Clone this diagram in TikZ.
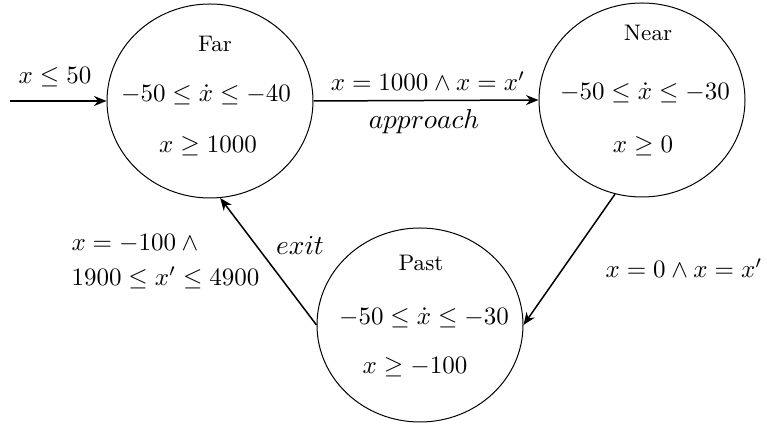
\documentclass[tikz,border=0pt]{standalone}
\usetikzlibrary{shapes.geometric,arrows.meta}
\begin{document}
\begin{tikzpicture}[x=0.4pt,y=-0.4pt,
  state/.style={draw,ellipse,thin,minimum width=82.4pt,minimum height=77.6pt,inner sep=0pt},
  statename/.style={font=\small,inner sep=0pt},
  inv/.style={inner sep=0pt},
  lbl/.style={inner sep=0pt},
  act/.style={inner sep=0pt,font=\fontsize{11}{13}\selectfont},
  trans/.style={semithick,-{Stealth[length=5pt,width=4pt]}}]
\useasboundingbox (0,0) rectangle (767,424);
\node[state] (far) at (210,101) {};
\node[state] (near) at (642,100) {};
\node[state] (past) at (420,325) {};
% Far contents
\node[statename] (farn) at (215,44) {Far};
\node[inv] (fari1) at (206,95) {$-50\le\dot{x}\le-40$};
\node[inv] (fari2) at (208,146) {$x\ge1000$};
% Near contents
\node[statename] (nearn) at (648,33) {Near};
\node[inv] (neari1) at (645,93) {$-50\le\dot{x}\le-30$};
\node[inv] (neari2) at (643,146) {$x\ge0$};
% Past contents
\node[statename] (pastn) at (421,263) {Past};
\node[inv] (pasti1) at (424,318) {$-50\le\dot{x}\le-30$};
\node[inv] (pasti2) at (415,367) {$x\ge-100$};
% transitions
\coordinate (init) at (10,101);
\draw[trans] (init) -- (far.west);
\draw[trans] (far.east) -- (near.west);
\draw[trans] (near.-106) -- (past.east);
\draw[trans] (past.west) -- (far.-84);
% labels
\node[lbl] (l0) at (55,77) {$x\le50$};
\node[lbl] (l1) at (428,81) {$x=1000\wedge x=x'$};
\node[act] (l1a) at (424,122) {$approach$};
\node[lbl] (l2) at (684,268) {$x=0\wedge x=x'$};
\node[act] (l3a) at (300,245) {$exit$};
\node[lbl,align=left,anchor=west] (l3) at (71,262) {$x=-100\wedge{}$\\[2pt]$1900\le x'\le4900$};
\end{tikzpicture}
\end{document}
